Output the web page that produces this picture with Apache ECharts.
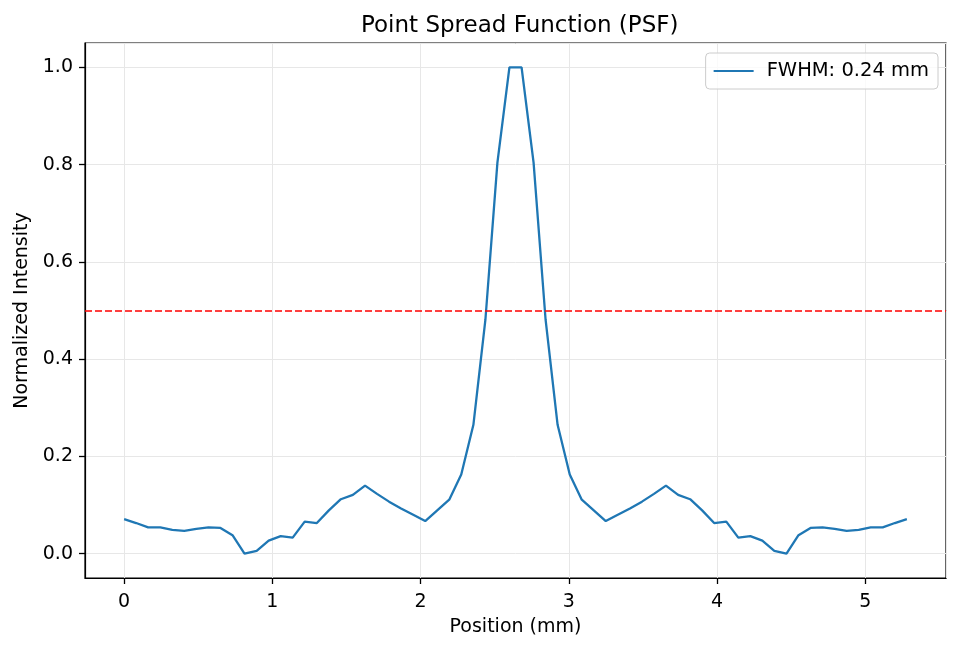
<!DOCTYPE html>
<html>
<head>
<meta charset="utf-8">
<script src="https://cdn.jsdelivr.net/npm/echarts@6/dist/echarts.min.js"></script>
<style>
html,body{margin:0;padding:0;background:#fff;}
#chart{width:962px;height:652px;}
</style>
</head>
<body>
<div id="chart"></div>
<script>
const positions = [0, 0.081, 0.162, 0.244, 0.325, 0.406, 0.487, 0.569, 0.650, 0.731,
  0.812, 0.894, 0.975, 1.056, 1.137, 1.218, 1.300, 1.381, 1.462, 1.543,
  1.625, 1.706, 1.787, 1.868, 1.950, 2.031, 2.112, 2.193, 2.274, 2.356,
  2.437, 2.518, 2.599, 2.681, 2.762, 2.843, 2.924, 3.006, 3.087, 3.168,
  3.249, 3.330, 3.412, 3.493, 3.574, 3.655, 3.737, 3.818, 3.899, 3.980,
  4.062, 4.143, 4.224, 4.305, 4.386, 4.468, 4.549, 4.630, 4.711, 4.793,
  4.874, 4.955, 5.036, 5.117, 5.199, 5.280];
const intensity = [0.071, 0.063, 0.054, 0.054, 0.049, 0.047, 0.051, 0.054, 0.053, 0.038,
  0.000, 0.006, 0.027, 0.036, 0.033, 0.066, 0.063, 0.089, 0.112, 0.121,
  0.140, 0.123, 0.107, 0.093, 0.080, 0.067, 0.089, 0.111, 0.163, 0.265,
  0.481, 0.804, 1.000, 1.000, 0.804, 0.481, 0.265, 0.163, 0.111, 0.089,
  0.067, 0.080, 0.093, 0.107, 0.123, 0.140, 0.121, 0.112, 0.089, 0.063,
  0.066, 0.033, 0.036, 0.027, 0.006, 0.000, 0.038, 0.053, 0.054, 0.051,
  0.047, 0.049, 0.054, 0.054, 0.063, 0.071];
const xTicks = [0, 1, 2, 3, 4, 5];
const yTicks = [0.0, 0.2, 0.4, 0.6, 0.8, 1.0];
const halfMax = 0.5;
const seriesName = 'FWHM: 0.24 mm';
const titleText = 'Point Spread Function (PSF)';
const xName = 'Position (mm)';
const yName = 'Normalized Intensity';

const font = 'DejaVu Sans';
const chart = echarts.init(document.getElementById('chart'));
const gridColor = '#e7e7e7';
const isTick = (v, list) => list.some(t => Math.abs(t - v) < 1e-6);
chart.setOption({
  animation: false,
  backgroundColor: '#fff',
  textStyle: {fontFamily: font},
  title: {
    text: titleText, left: 356, top: 10,
    textStyle: {fontFamily: font, fontSize: 23, fontWeight: 'normal', color: '#000'}
  },
  legend: {
    right: 24, top: 53,
    padding: [8, 9, 8, 8],
    borderColor: '#cccccc', borderWidth: 1, borderRadius: 4,
    backgroundColor: 'rgba(255,255,255,0.8)',
    icon: 'rect', itemWidth: 40, itemHeight: 2, itemGap: 10,
    textStyle: {fontFamily: font, fontSize: 19.5, color: '#000', padding: [0, 0, 0, 8]},
    data: [seriesName]
  },
  grid: {
    left: 85, right: 16, top: 43, bottom: 74,
    show: true, borderColor: '#000', borderWidth: 1.2, backgroundColor: 'transparent'
  },
  xAxis: {
    type: 'value', min: -0.264, max: 5.544,
    name: xName, nameLocation: 'middle', nameGap: 40,
    nameTextStyle: {fontFamily: font, fontSize: 19, color: '#000'},
    axisLine: {show: true, onZero: false, lineStyle: {color: '#000', width: 1.2}},
    axisTick: {show: true, inside: false, length: 6, lineStyle: {color: '#000', width: 1.3}},
    axisLabel: {fontFamily: font, fontSize: 19, color: '#000', margin: 15,
      showMinLabel: false, showMaxLabel: false,
      formatter: v => isTick(v, xTicks) ? String(Math.round(v)) : ''},
    splitLine: {show: true, lineStyle: {color: gridColor, width: 1}}
  },
  yAxis: {
    type: 'value', min: -0.05, max: 1.05,
    name: yName, nameLocation: 'middle', nameGap: 51, nameRotate: 90,
    nameTextStyle: {fontFamily: font, fontSize: 19, color: '#000'},
    axisLine: {show: true, onZero: false, lineStyle: {color: '#000', width: 1.2}},
    axisTick: {show: true, inside: false, length: 6, lineStyle: {color: '#000', width: 1.3}},
    axisLabel: {fontFamily: font, fontSize: 19, color: '#000', margin: 12,
      showMinLabel: false, showMaxLabel: false,
      formatter: v => isTick(v, yTicks) ? v.toFixed(1) : ''},
    splitLine: {show: true, lineStyle: {color: gridColor, width: 1}}
  },
  series: [{
    name: seriesName,
    type: 'line',
    data: positions.map((x, i) => [x, intensity[i]]),
    showSymbol: false,
    symbol: 'none',
    lineStyle: {color: '#1f77b4', width: 2.3},
    itemStyle: {color: '#1f77b4'},
    markLine: {
      silent: true, symbol: 'none',
      label: {show: false},
      lineStyle: {color: '#ff0000', type: [7, 3], width: 1.6},
      data: [{yAxis: halfMax}]
    }
  }]
});
</script>
</body>
</html>
